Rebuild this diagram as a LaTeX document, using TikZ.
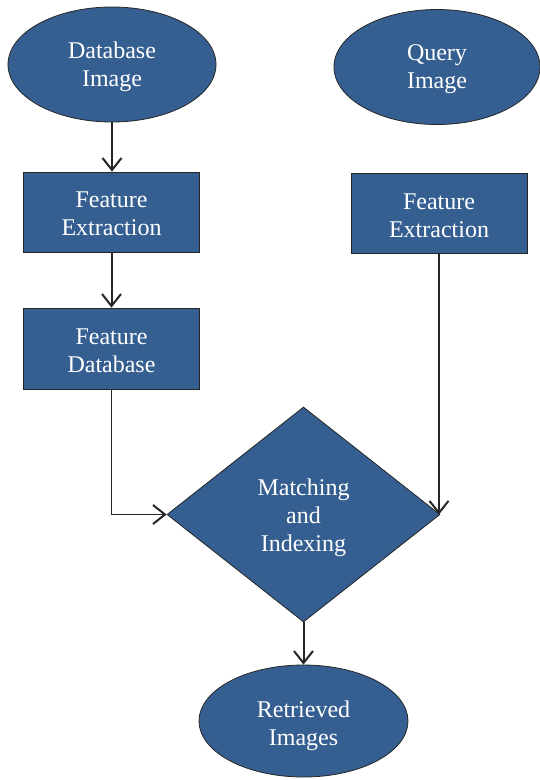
\documentclass[tikz,border=0pt]{standalone}
\usepackage{fontspec}
\newfontfamily\timesfont{Liberation Serif}
\usetikzlibrary{shapes.geometric,arrows.meta}
\definecolor{boxblue}{RGB}{54,95,145}
\definecolor{edgegray}{RGB}{38,38,38}
\tikzset{
  base/.style={fill=boxblue,draw=edgegray,line width=0.8pt,inner sep=0pt},
  txt/.style={text=white,inner sep=0pt,align=center,font=\timesfont\fontsize{24}{28}\selectfont},
  oval/.style={base,ellipse,minimum width=208pt,minimum height=115pt},
  boxnode/.style={base,rectangle,minimum width=176pt,minimum height=80pt},
  decision/.style={base,diamond,minimum width=273pt,minimum height=215pt},
  conn/.style={draw=edgegray,line width=2pt,-{Straight Barb[length=12pt,width=19pt,line width=2pt]}},
  thinconn/.style={draw=edgegray,line width=1.2pt,-{Straight Barb[length=12pt,width=19pt,line width=2pt]}}
}
\begin{document}
\begin{tikzpicture}[x=1pt,y=-1pt]
\useasboundingbox (0,0) rectangle (539,780);
\node[oval] (dbimg) at (112,64.5) {};
\node[txt] (dbimgt) at ([yshift=-2pt]dbimg.center) {Database\\Image};
\node[oval,minimum width=206pt] (qimg) at (437,67) {};
\node[txt] (qimgt) at ([yshift=-2.5pt]qimg.center) {Query\\Image};
\node[boxnode] (fe1) at (111.5,212) {};
\node[txt] (fe1t) at ([yshift=-2pt]fe1.center) {Feature\\Extraction};
\node[boxnode] (fe2) at (439,213.5) {};
\node[txt] (fe2t) at ([yshift=-2pt]fe2.center) {Feature\\Extraction};
\node[boxnode,minimum height=81pt] (fdb) at (111.5,348.5) {};
\node[txt] (fdbt) at ([yshift=-2pt]fdb.center) {Feature\\Database};
\node[decision] (match) at (303.5,514.5) {};
\node[txt] (matcht) at ([yshift=-3.5pt]match.center) {Matching\\and\\Indexing};
\node[oval,minimum width=209pt,minimum height=112pt] (ret) at (303.5,721) {};
\node[txt] (rett) at ([yshift=-5pt]ret.center) {Retrieved\\Images};
\draw[conn] (dbimg.south) -- (dbimg.south |- fe1.north);
\draw[conn] (fe1.south) -- (fdb.north);
\draw[thinconn] (fdb.south) |- (match.west);
\draw[conn] (fe2.south) -- (fe2.south |- match.east);
\draw[conn] (match.south) -- (ret.north);
\end{tikzpicture}
\end{document}
